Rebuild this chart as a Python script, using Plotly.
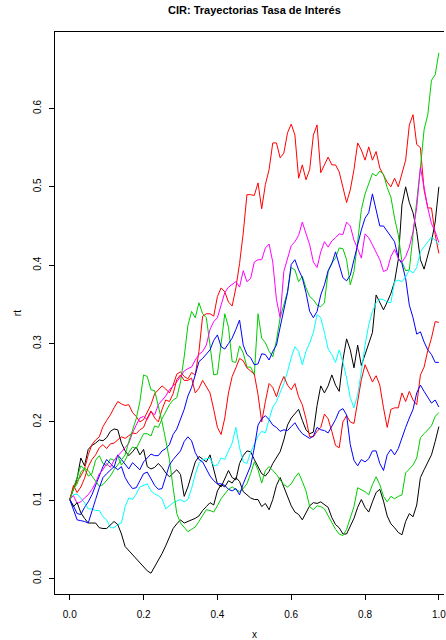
import numpy as np
import plotly.graph_objects as go

# time grid of the simulated CIR paths (step 0.01 on [0, 1])
t = np.round(np.arange(101) / 100, 2)

# simulated short-rate paths r_t, one list per trajectory
path1 = [0.101, 0.092, 0.097, 0.084, 0.077, 0.071, 0.071, 0.071, 0.065, 0.064,
         0.064, 0.068, 0.073, 0.069, 0.057, 0.041, 0.036, 0.031, 0.026, 0.020,
         0.015, 0.010, 0.007, 0.015, 0.023, 0.032, 0.042, 0.052, 0.064, 0.070,
         0.075, 0.071, 0.073, 0.074, 0.077, 0.080, 0.087, 0.092, 0.097, 0.094,
         0.112, 0.120, 0.117, 0.125, 0.122, 0.129, 0.124, 0.111, 0.107, 0.103,
         0.101, 0.101, 0.092, 0.096, 0.088, 0.101, 0.119, 0.129, 0.117, 0.104,
         0.093, 0.085, 0.082, 0.075, 0.085, 0.093, 0.097, 0.096, 0.098, 0.094,
         0.091, 0.078, 0.069, 0.065, 0.057, 0.057, 0.066, 0.077, 0.091, 0.101,
         0.091, 0.085, 0.098, 0.110, 0.114, 0.099, 0.080, 0.070, 0.065, 0.059,
         0.056, 0.073, 0.083, 0.079, 0.094, 0.129, 0.139, 0.148, 0.158, 0.175,
         0.194]
path2 = [0.101, 0.115, 0.124, 0.131, 0.140, 0.158, 0.171, 0.177, 0.181, 0.194,
         0.202, 0.209, 0.218, 0.226, 0.223, 0.221, 0.222, 0.212, 0.207, 0.200,
         0.203, 0.213, 0.222, 0.236, 0.241, 0.246, 0.242, 0.237, 0.247, 0.261,
         0.264, 0.258, 0.255, 0.263, 0.260, 0.290, 0.335, 0.338, 0.338, 0.335,
         0.360, 0.371, 0.366, 0.353, 0.348, 0.371, 0.402, 0.441, 0.490, 0.490,
         0.489, 0.505, 0.472, 0.503, 0.522, 0.556, 0.556, 0.537, 0.543, 0.569,
         0.580, 0.566, 0.511, 0.528, 0.509, 0.522, 0.566, 0.579, 0.518, 0.528,
         0.538, 0.528, 0.528, 0.519, 0.499, 0.480, 0.496, 0.522, 0.556, 0.547,
         0.534, 0.551, 0.534, 0.545, 0.524, 0.514, 0.506, 0.500, 0.511, 0.500,
         0.518, 0.534, 0.579, 0.592, 0.554, 0.550, 0.496, 0.473, 0.473, 0.439,
         0.415]
path3 = [0.101, 0.115, 0.130, 0.144, 0.140, 0.131, 0.134, 0.151, 0.157, 0.147,
         0.144, 0.153, 0.151, 0.157, 0.145, 0.151, 0.161, 0.168, 0.166, 0.176,
         0.185, 0.185, 0.182, 0.195, 0.193, 0.204, 0.214, 0.222, 0.228, 0.231,
         0.251, 0.283, 0.323, 0.341, 0.333, 0.352, 0.338, 0.333, 0.298, 0.260,
         0.261, 0.298, 0.338, 0.321, 0.277, 0.276, 0.297, 0.288, 0.270, 0.270,
         0.260, 0.338, 0.307, 0.301, 0.290, 0.283, 0.304, 0.333, 0.349, 0.366,
         0.397, 0.394, 0.379, 0.386, 0.371, 0.360, 0.356, 0.349, 0.347, 0.352,
         0.392, 0.403, 0.409, 0.422, 0.421, 0.407, 0.375, 0.392, 0.430, 0.471,
         0.491, 0.504, 0.517, 0.514, 0.520, 0.516, 0.499, 0.487, 0.460, 0.439,
         0.404, 0.393, 0.394, 0.439, 0.480, 0.524, 0.573, 0.592, 0.636, 0.643,
         0.671]
path4 = [0.101, 0.093, 0.083, 0.082, 0.091, 0.098, 0.107, 0.120, 0.131, 0.143,
         0.152, 0.147, 0.142, 0.158, 0.152, 0.145, 0.140, 0.148, 0.143, 0.139,
         0.149, 0.154, 0.159, 0.157, 0.157, 0.163, 0.166, 0.171, 0.184, 0.191,
         0.203, 0.216, 0.233, 0.244, 0.260, 0.277, 0.281, 0.286, 0.292, 0.304,
         0.311, 0.296, 0.293, 0.300, 0.307, 0.318, 0.330, 0.298, 0.286, 0.282,
         0.273, 0.274, 0.287, 0.286, 0.279, 0.290, 0.298, 0.321, 0.343, 0.365,
         0.401, 0.407, 0.394, 0.384, 0.365, 0.341, 0.333, 0.341, 0.362, 0.375,
         0.393, 0.402, 0.417, 0.401, 0.384, 0.380, 0.387, 0.407, 0.426, 0.445,
         0.460, 0.467, 0.491, 0.471, 0.450, 0.450, 0.443, 0.436, 0.430, 0.409,
         0.402, 0.383, 0.349, 0.333, 0.312, 0.315, 0.302, 0.292, 0.286, 0.276,
         0.276]
path5 = [0.101, 0.107, 0.108, 0.102, 0.097, 0.089, 0.089, 0.087, 0.087, 0.079,
         0.075, 0.065, 0.065, 0.069, 0.071, 0.092, 0.103, 0.101, 0.108, 0.117,
         0.119, 0.121, 0.112, 0.108, 0.106, 0.102, 0.089, 0.093, 0.097, 0.099,
         0.101, 0.098, 0.101, 0.115, 0.133, 0.147, 0.152, 0.153, 0.154, 0.144,
         0.145, 0.154, 0.152, 0.163, 0.173, 0.193, 0.167, 0.149, 0.147, 0.161,
         0.171, 0.182, 0.188, 0.186, 0.203, 0.219, 0.226, 0.237, 0.249, 0.264,
         0.282, 0.296, 0.290, 0.273, 0.290, 0.301, 0.314, 0.337, 0.333, 0.314,
         0.293, 0.286, 0.276, 0.292, 0.276, 0.256, 0.231, 0.218, 0.235, 0.264,
         0.298, 0.324, 0.341, 0.352, 0.357, 0.356, 0.353, 0.352, 0.379, 0.381,
         0.379, 0.385, 0.394, 0.390, 0.397, 0.417, 0.423, 0.429, 0.436, 0.432,
         0.426]
path6 = [0.101, 0.106, 0.096, 0.098, 0.103, 0.107, 0.114, 0.122, 0.134, 0.139,
         0.147, 0.142, 0.151, 0.156, 0.161, 0.167, 0.173, 0.186, 0.196, 0.205,
         0.207, 0.203, 0.213, 0.209, 0.222, 0.228, 0.233, 0.241, 0.246, 0.251,
         0.258, 0.265, 0.268, 0.270, 0.279, 0.286, 0.290, 0.298, 0.318, 0.328,
         0.333, 0.349, 0.365, 0.372, 0.375, 0.379, 0.372, 0.393, 0.379, 0.383,
         0.404, 0.407, 0.407, 0.422, 0.427, 0.404, 0.356, 0.333, 0.392, 0.407,
         0.425, 0.430, 0.438, 0.455, 0.440, 0.426, 0.404, 0.397, 0.417, 0.430,
         0.423, 0.431, 0.435, 0.440, 0.439, 0.455, 0.450, 0.432, 0.421, 0.409,
         0.440, 0.435, 0.426, 0.417, 0.407, 0.392, 0.394, 0.411, 0.420, 0.409,
         0.404, 0.411, 0.423, 0.443, 0.474, 0.525, 0.499, 0.473, 0.453, 0.443,
         0.429]
path7 = [0.101, 0.114, 0.128, 0.154, 0.144, 0.165, 0.170, 0.173, 0.177, 0.176,
         0.180, 0.188, 0.191, 0.190, 0.173, 0.163, 0.157, 0.162, 0.168, 0.158,
         0.165, 0.143, 0.140, 0.142, 0.147, 0.142, 0.135, 0.130, 0.135, 0.139,
         0.133, 0.105, 0.117, 0.133, 0.149, 0.156, 0.152, 0.149, 0.158, 0.140,
         0.121, 0.117, 0.128, 0.138, 0.129, 0.126, 0.147, 0.157, 0.163, 0.162,
         0.152, 0.142, 0.134, 0.131, 0.137, 0.147, 0.154, 0.162, 0.177, 0.196,
         0.205, 0.210, 0.216, 0.202, 0.190, 0.185, 0.187, 0.221, 0.246, 0.237,
         0.246, 0.260, 0.247, 0.239, 0.279, 0.306, 0.292, 0.269, 0.298, 0.272,
         0.286, 0.298, 0.314, 0.362, 0.353, 0.343, 0.353, 0.364, 0.379, 0.407,
         0.477, 0.500, 0.480, 0.467, 0.443, 0.407, 0.395, 0.412, 0.430, 0.455,
         0.500]
path8 = [0.101, 0.119, 0.110, 0.117, 0.128, 0.143, 0.152, 0.158, 0.167, 0.171,
         0.166, 0.172, 0.173, 0.177, 0.181, 0.179, 0.182, 0.186, 0.185, 0.190,
         0.193, 0.205, 0.214, 0.205, 0.200, 0.216, 0.228, 0.226, 0.236, 0.254,
         0.260, 0.253, 0.253, 0.256, 0.237, 0.243, 0.253, 0.244, 0.237, 0.216,
         0.193, 0.184, 0.205, 0.237, 0.258, 0.269, 0.281, 0.278, 0.269, 0.265,
         0.261, 0.235, 0.200, 0.226, 0.249, 0.244, 0.232, 0.247, 0.258, 0.247,
         0.241, 0.249, 0.232, 0.222, 0.204, 0.181, 0.181, 0.188, 0.193, 0.210,
         0.204, 0.188, 0.170, 0.167, 0.200, 0.208, 0.200, 0.198, 0.228, 0.254,
         0.273, 0.263, 0.251, 0.259, 0.247, 0.218, 0.193, 0.216, 0.218, 0.218,
         0.237, 0.226, 0.239, 0.228, 0.222, 0.260, 0.270, 0.291, 0.307, 0.328,
         0.327]
path9 = [0.101, 0.114, 0.121, 0.136, 0.141, 0.138, 0.131, 0.125, 0.118, 0.120,
         0.125, 0.131, 0.139, 0.145, 0.151, 0.158, 0.175, 0.190, 0.204, 0.226,
         0.260, 0.258, 0.241, 0.240, 0.221, 0.200, 0.177, 0.152, 0.116, 0.083,
         0.071, 0.065, 0.060, 0.063, 0.066, 0.073, 0.080, 0.088, 0.087, 0.085,
         0.093, 0.102, 0.108, 0.114, 0.117, 0.114, 0.111, 0.115, 0.121, 0.134,
         0.149, 0.139, 0.122, 0.138, 0.143, 0.138, 0.133, 0.126, 0.120, 0.117,
         0.121, 0.129, 0.135, 0.124, 0.112, 0.092, 0.088, 0.093, 0.092, 0.089,
         0.080, 0.070, 0.063, 0.057, 0.055, 0.063, 0.078, 0.092, 0.116, 0.114,
         0.111, 0.107, 0.120, 0.130, 0.120, 0.105, 0.098, 0.105, 0.102, 0.105,
         0.107, 0.135, 0.140, 0.145, 0.154, 0.180, 0.185, 0.190, 0.195, 0.207,
         0.212]
path10 = [0.101, 0.088, 0.075, 0.074, 0.073, 0.071, 0.085, 0.101, 0.116, 0.129,
          0.134, 0.139, 0.143, 0.139, 0.143, 0.129, 0.121, 0.115, 0.116, 0.125,
          0.134, 0.136, 0.128, 0.119, 0.114, 0.115, 0.130, 0.145, 0.152, 0.158,
          0.163, 0.175, 0.181, 0.176, 0.161, 0.152, 0.149, 0.140, 0.131, 0.125,
          0.121, 0.121, 0.119, 0.114, 0.112, 0.115, 0.107, 0.121, 0.133, 0.144,
          0.167, 0.196, 0.204, 0.208, 0.203, 0.196, 0.193, 0.188, 0.190, 0.189,
          0.194, 0.199, 0.191, 0.185, 0.182, 0.179, 0.182, 0.193, 0.190, 0.189,
          0.186, 0.194, 0.203, 0.214, 0.217, 0.209, 0.171, 0.151, 0.144, 0.152,
          0.149, 0.153, 0.163, 0.163, 0.147, 0.138, 0.158, 0.165, 0.158, 0.166,
          0.181, 0.193, 0.205, 0.216, 0.237, 0.247, 0.239, 0.232, 0.224, 0.228,
          0.219]

# matplot order: colours 1..6 of the base palette, then recycled
paths = [path7, path2, path3, path4, path5, path6, path1, path8, path9, path10]
colors = ["#000000", "#FF0000", "#00CD00", "#0000FF", "#00FFFF", "#FF00FF",
          "#000000", "#FF0000", "#00CD00", "#0000FF"]

x_ticks = [0.0, 0.2, 0.4, 0.6, 0.8, 1.0]
y_ticks = [0.0, 0.1, 0.2, 0.3, 0.4, 0.5, 0.6]

FONT = "Liberation Sans, Arial, Helvetica, sans-serif"

fig = go.Figure()
for r, c in zip(paths, colors):
    fig.add_trace(go.Scatter(x=t, y=r, mode="lines",
                             line=dict(color=c, width=1),
                             hoverinfo="skip", showlegend=False))

# axis limits padded by 4% of the data range; the right side runs off the page
all_r = np.concatenate([np.asarray(p) for p in paths])
pad_y = 0.04 * (all_r.max() - all_r.min())
y_lo, y_hi = all_r.min() - pad_y, all_r.max() + pad_y
x_lo = t.min() - 0.04 * (t.max() - t.min())

W, H = 446, 640
ML, MT, MB = 55, 32, 46
x_hi = x_lo + (W - ML) / 371.0

fig.update_layout(
    width=W, height=H,
    margin=dict(l=ML, r=0, t=MT, b=MB, pad=0),
    paper_bgcolor="white", plot_bgcolor="white",
    font=dict(family=FONT, size=10, color="black"),
    xaxis=dict(range=[x_lo, x_hi], tickvals=x_ticks,
               ticktext=[f"{v:.1f}" for v in x_ticks],
               showgrid=False, zeroline=False, showline=True, mirror=True,
               linecolor="black", linewidth=1, ticks="outside", ticklen=5,
               tickwidth=1, tickcolor="black", ticklabelstandoff=6,
               ticklabeloverflow="allow"),
    yaxis=dict(range=[y_lo, y_hi], tickvals=y_ticks,
               ticktext=[f"{v:.1f}" for v in y_ticks], tickangle=-90,
               showgrid=False, zeroline=False, showline=True, mirror=False,
               linecolor="black", linewidth=1, ticks="outside", ticklen=5,
               tickwidth=1, tickcolor="black", ticklabelstandoff=4),
    annotations=[
        dict(text="<b>CIR: Trayectorias Tasa de Interés</b>", xref="paper",
             yref="paper", x=0.5128, y=1 + (MT - 10) / (H - MT - MB),
             xanchor="center", yanchor="middle", showarrow=False,
             font=dict(size=11, family=FONT)),
        dict(text="x", xref="paper", yref="paper", x=0.5128,
             y=-(634 - (H - MB)) / (H - MT - MB), xanchor="center",
             yanchor="middle", showarrow=False, font=dict(size=10, family=FONT)),
        dict(text="rt", xref="paper", yref="paper", x=-(ML - 17) / (W - ML),
             y=0.5, xanchor="center", yanchor="middle", textangle=-90,
             showarrow=False, font=dict(size=10, family=FONT)),
    ],
)

fig.write_html("out.html")
